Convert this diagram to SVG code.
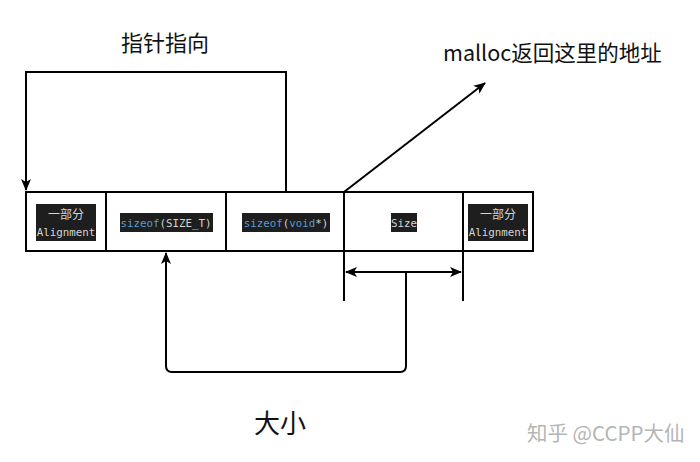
<svg xmlns="http://www.w3.org/2000/svg" width="700" height="462" viewBox="0 0 700 462">
<defs>
<marker id="arr" viewBox="0 0 12 12" refX="11" refY="6" markerWidth="12" markerHeight="12" markerUnits="userSpaceOnUse" orient="auto-start-reverse">
<path d="M0,1 L12,6 L0,11 L3,6 z" fill="#000"/>
</marker>
<style>
.ln{fill:none;stroke:#000;stroke-width:2}
.cell{fill:#fff;stroke:#000;stroke-width:2}
.dk{fill:#1e1e1e}
.code{font-family:"DejaVu Sans Mono","Liberation Mono","Noto Sans CJK SC",monospace;font-size:10.8px;fill:#d4d4d4}
.cjk{font-family:"Noto Sans CJK SC","Noto Sans",sans-serif;fill:#d4d4d4;font-size:12px}
.kw{fill:#569cd6}
.lbl{font-family:"Noto Sans CJK SC","Noto Sans",sans-serif;fill:#111}
</style>
</defs>
<rect width="700" height="462" fill="#fff"/>

<g id="cell-align-left">
<rect class="cell" x="26" y="192" width="80" height="59"/>
<rect class="dk" x="36" y="204" width="60" height="37"/>
<text class="cjk" x="66" y="219" text-anchor="middle">一部分</text>
<text class="code" x="66" y="236" text-anchor="middle">Alignment</text>
</g>
<g id="cell-size-t">
<rect class="cell" x="106" y="192" width="120" height="59"/>
<rect class="dk" x="120" y="213" width="93" height="19"/>
<text class="code" x="166" y="226.5" text-anchor="middle"><tspan class="kw">sizeof</tspan>(SIZE_T)</text>
</g>
<g id="cell-void">
<rect class="cell" x="226" y="192" width="118" height="59"/>
<rect class="dk" x="242" y="213" width="88" height="19"/>
<text class="code" x="286" y="226.5" text-anchor="middle"><tspan class="kw">sizeof</tspan>(<tspan class="kw">void</tspan>*)</text>
</g>
<g id="cell-size">
<rect class="cell" x="344" y="192" width="119" height="59"/>
<rect class="dk" x="391" y="213" width="26" height="19"/>
<text class="code" x="404" y="226.5" text-anchor="middle">Size</text>
</g>
<g id="cell-align-right">
<rect class="cell" x="463" y="192" width="70" height="59"/>
<rect class="dk" x="468" y="204" width="60" height="37"/>
<text class="cjk" x="498" y="219" text-anchor="middle">一部分</text>
<text class="code" x="498" y="236" text-anchor="middle">Alignment</text>
</g>

<g id="connectors">
<path class="ln" d="M286 192 V72 H26 V190" marker-end="url(#arr)"/>
<path class="ln" d="M344 192 L485 83" marker-end="url(#arr)"/>
<path class="ln" d="M344 251 V301 M463 251 V301"/>
<path class="ln" d="M346 272 H461" marker-start="url(#arr)" marker-end="url(#arr)"/>
<path class="ln" d="M406 272 V366 Q406 372 400 372 H172 Q166 372 166 366 V253" marker-end="url(#arr)"/>
</g>

<g id="labels">
<text class="lbl" x="165" y="51" font-size="22" text-anchor="middle">指针指向</text>
<text class="lbl" x="443" y="61" font-size="21.5">malloc返回这里的地址</text>
<text class="lbl" x="280" y="433" font-size="26" text-anchor="middle">大小</text>
<text x="527" y="441" font-family="Noto Sans CJK SC, Noto Sans, sans-serif" font-size="20.5" fill="#b5b5b5">知乎 @CCPP大仙</text>
</g>
</svg>
